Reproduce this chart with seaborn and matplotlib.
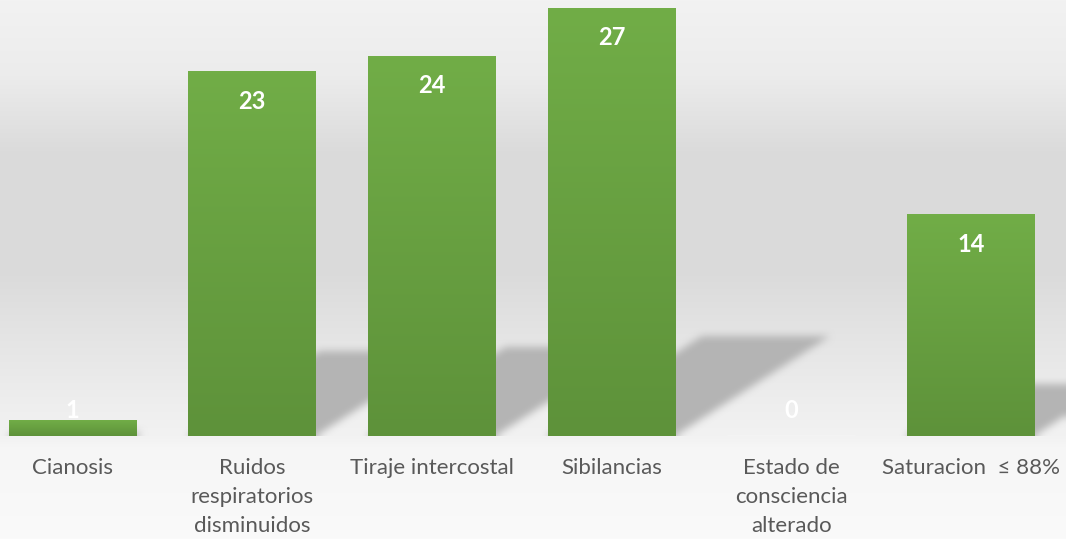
import numpy as np
import pandas as pd
import matplotlib
matplotlib.use("Agg")
import matplotlib.pyplot as plt
import seaborn as sns

# Data
categories = ["Cianosis", "Ruidos\nrespiratorios\ndisminuidos", "Tiraje intercostal",
              "Sibilancias", "Estado de\nconsciencia\nalterado", "Saturacion  \u2264 88%"]
values = [1, 23, 24, 27, 0, 14]
value_labels = ["1", "23", "24", "27", "0", "14"]

sns.set_theme(style="white")
plt.rcParams["font.family"] = ["Lato", "DejaVu Sans"]

W, H, DPI = 1066, 539, 100
fig = plt.figure(figsize=(W / DPI, H / DPI), dpi=DPI)

# Figure background: soft vertical grey gradient
bg_ax = fig.add_axes([0, 0, 1, 1], zorder=-10)
stops_y = np.array([0.0, 0.14, 0.28, 0.5, 0.62, 0.75, 0.81, 0.83, 1.0])
stops_v = np.array([242, 236, 219, 218, 228, 238, 242, 246, 250]) / 255.0
yy = np.linspace(0, 1, H)
col = np.interp(yy, stops_y, stops_v)
bg = np.repeat(col[:, None], 4, axis=1)
bg_rgb = np.dstack([bg, bg, bg])
bg_ax.imshow(bg_rgb, aspect="auto", extent=[0, 1, 0, 1], origin="upper")
bg_ax.set_axis_off()

# Plot area
px_per_cat = 179.7
px_per_unit = 15.852
x_left = -72.5 / px_per_cat
x_right = (W - 72.5) / px_per_cat
y_top = 436 / px_per_unit
ax = fig.add_axes([0, (H - 436) / H, 1, 436 / H])
ax.patch.set_alpha(0)

df = pd.DataFrame({"cat": categories, "val": values})
bar_w = 128 / px_per_cat
sns.barplot(data=df, x="cat", y="val", order=categories, width=bar_w,
            color="#6aa443", saturation=1, ax=ax, zorder=3)
ax.set_xlim(x_left, x_right)
ax.set_ylim(0, y_top)

# Perspective shadows cast up and to the right of every bar
nx, ny = W, 436
gx = np.linspace(x_left, x_right, nx)
gy = np.linspace(y_top, 0, ny)
X, Y = np.meshgrid(gx, gy)
mask = np.zeros_like(X)
slope = 1.55 * px_per_unit / px_per_cat
for patch in ax.patches:
    x0 = patch.get_x()
    x1 = x0 + patch.get_width()
    v = patch.get_height()
    if v <= 0:
        continue
    h = 0.2334 * v
    shift = Y * slope
    m = (Y <= h) & (X >= x0 + shift) & (X <= x1 + shift)
    mask = np.maximum(mask, m.astype(float))

def box_blur(a, k, axis):
    kern = np.ones(k) / k
    pad = k // 2
    a = np.pad(a, [(pad, pad) if i == axis else (0, 0) for i in range(2)], mode="edge")
    return np.apply_along_axis(lambda r: np.convolve(r, kern, mode="valid"), axis, a)

for _ in range(2):
    mask = box_blur(mask, 9, 0)
    mask = box_blur(mask, 9, 1)
mask = mask[:ny, :nx]
shadow = np.zeros((ny, nx, 4))
shadow[..., :3] = 180 / 255.0
shadow[..., 3] = np.clip(mask, 0, 1)
ax.imshow(shadow, aspect="auto", extent=[x_left, x_right, 0, y_top],
          origin="upper", zorder=1, interpolation="bilinear")

# Vertical green gradient on each bar
top_c = np.array([113, 173, 71]) / 255.0
bot_c = np.array([94, 146, 58]) / 255.0
grad_t = np.linspace(0, 1, 64)[:, None]
grad = (top_c[None, :] * (1 - grad_t) + bot_c[None, :] * grad_t)[:, None, :]
for patch in ax.patches:
    x0 = patch.get_x()
    x1 = x0 + patch.get_width()
    v = patch.get_height()
    if v <= 0:
        continue
    im = ax.imshow(grad, aspect="auto", extent=[x0, x1, 0, v], origin="upper",
                   zorder=4, interpolation="bilinear")
    im.set_clip_path(patch)
    patch.set_edgecolor("none")

# Value labels inside the top of each bar
for i, (v, lab) in enumerate(zip(values, value_labels)):
    yl = max(v - 30 / px_per_unit, 26 / px_per_unit)
    ax.text(i, yl, lab, ha="center", va="center", color="white",
            fontsize=17, fontweight="bold", zorder=6)

ax.set_xlim(x_left, x_right)
ax.set_ylim(0, y_top)
ax.set_xlabel("")
ax.set_ylabel("")
ax.set_yticks([])
ax.tick_params(axis="x", length=0, pad=16, labelsize=16, labelcolor="#595959")
for t in ax.get_xticklabels():
    t.set_linespacing(1.55)
for s in ax.spines.values():
    s.set_visible(False)

fig.savefig("out.png", dpi=DPI)
